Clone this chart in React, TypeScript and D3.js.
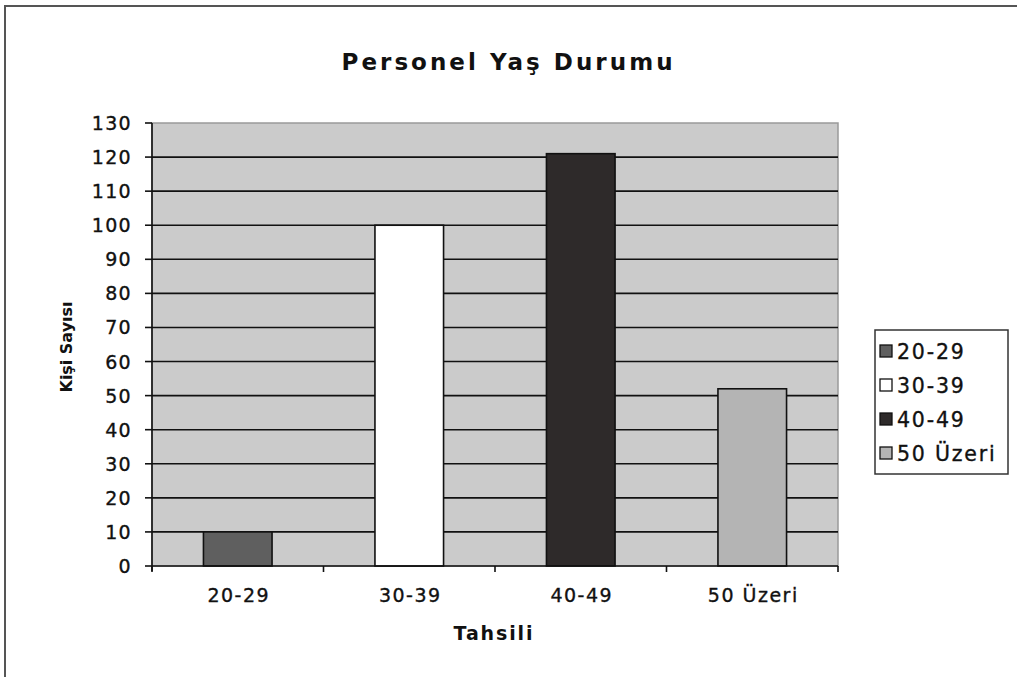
import React from "react";
import * as d3 from "d3";

const categories = ["20-29", "30-39", "40-49", "50 Üzeri"];
const values = [10, 100, 121, 52];
const barColors = ["#5f5f5f", "#ffffff", "#2e2a2a", "#b4b4b4"];
const yTicks = [0, 10, 20, 30, 40, 50, 60, 70, 80, 90, 100, 110, 120, 130];
const title = "Personel Yaş Durumu";
const xTitle = "Tahsili";
const yTitle = "Kişi Sayısı";

const W = 1017;
const H = 677;
const plot = { left: 152, right: 838, top: 123, bottom: 566 };
const FONT = "DejaVu Sans, Verdana, sans-serif";

export default function App() {
  const x = d3
    .scaleBand<string>()
    .domain(categories)
    .range([plot.left, plot.right])
    .paddingInner(0.6)
    .paddingOuter(0.3);
  const y = d3.scaleLinear().domain([0, 130]).range([plot.bottom, plot.top]);
  const step = x.step();
  const boundaries = categories.map((_, i) => plot.left + i * step).concat([plot.right]);

  return (
    <svg
      width={W}
      height={H}
      style={{ position: "absolute", left: 0, top: 0, background: "#ffffff" }}
    >
      {/* outer frame */}
      <rect x={5} y={6} width={W + 20} height={H + 20} fill="none" stroke="#555" strokeWidth={2} />

      {/* title */}
      <text
        x={507}
        y={70}
        textAnchor="middle"
        fontFamily={FONT}
        fontWeight="bold"
        fontSize={23}
        textLength={331}
        lengthAdjust="spacing"
        fill="#111"
      >
        {title}
      </text>

      {/* plot background */}
      <rect
        x={plot.left}
        y={plot.top}
        width={plot.right - plot.left}
        height={plot.bottom - plot.top}
        fill="#cbcbcb"
        stroke="#9a9a9a"
        strokeWidth={1.5}
      />

      {/* gridlines */}
      {yTicks
        .filter((t) => t > 0 && t < 130)
        .map((t) => (
          <line
            key={"g" + t}
            x1={plot.left}
            x2={plot.right}
            y1={y(t)}
            y2={y(t)}
            stroke="#111"
            strokeWidth={1.6}
          />
        ))}

      {/* bars */}
      {categories.map((c, i) => (
        <rect
          key={c}
          x={x(c)}
          y={y(values[i])}
          width={x.bandwidth()}
          height={y(0) - y(values[i])}
          fill={barColors[i]}
          stroke="#111"
          strokeWidth={1.6}
        />
      ))}

      {/* y axis */}
      <line x1={plot.left} x2={plot.left} y1={plot.top} y2={plot.bottom + 5} stroke="#111" strokeWidth={1.6} />
      {yTicks.map((t) => (
        <g key={"t" + t}>
          <line x1={plot.left - 7} x2={plot.left} y1={y(t)} y2={y(t)} stroke="#111" strokeWidth={1.6} />
          <text
            x={132}
            y={y(t) + 7}
            textAnchor="end"
            fontFamily={FONT}
            fontSize={19}
            letterSpacing={1.3}
            fill="#111"
            stroke="#111"
            strokeWidth={0.35}
          >
            {t}
          </text>
        </g>
      ))}

      {/* x axis */}
      <line x1={plot.left} x2={plot.right} y1={plot.bottom} y2={plot.bottom} stroke="#111" strokeWidth={1.6} />
      {boundaries.map((b, i) => (
        <line key={"xb" + i} x1={b} x2={b} y1={plot.bottom} y2={plot.bottom + 6} stroke="#111" strokeWidth={1.6} />
      ))}
      {categories.map((c) => (
        <text
          key={"xl" + c}
          x={(x(c) as number) + x.bandwidth() / 2 + 1}
          y={602}
          textAnchor="middle"
          fontFamily={FONT}
          fontSize={19}
          letterSpacing={1.5}
          fill="#111"
          stroke="#111"
          strokeWidth={0.35}
        >
          {c}
        </text>
      ))}

      {/* axis titles */}
      <text
        x={493}
        y={640}
        textAnchor="middle"
        fontFamily={FONT}
        fontWeight="bold"
        fontSize={19}
        textLength={79}
        lengthAdjust="spacing"
        fill="#111"
      >
        {xTitle}
      </text>
      <text
        transform="translate(72,347) rotate(-90)"
        textAnchor="middle"
        fontFamily={FONT}
        fontWeight="bold"
        fontSize={16}
        textLength={91}
        lengthAdjust="spacing"
        fill="#111"
      >
        {yTitle}
      </text>

      {/* legend */}
      <rect x={875} y={330} width={133} height={144} fill="#fff" stroke="#333" strokeWidth={1.5} />
      {categories.map((c, i) => {
        const cy = 351 + i * 34;
        return (
          <g key={"lg" + c}>
            <rect x={880} y={cy - 6} width={12} height={12} fill={barColors[i]} stroke="#111" strokeWidth={1.3} />
            <text
              x={897}
              y={cy + 7.5}
              fontFamily={FONT}
              fontSize={20.5}
              letterSpacing={1.8}
              fill="#111"
              stroke="#111"
              strokeWidth={0.35}
            >
              {c}
            </text>
          </g>
        );
      })}
    </svg>
  );
}
